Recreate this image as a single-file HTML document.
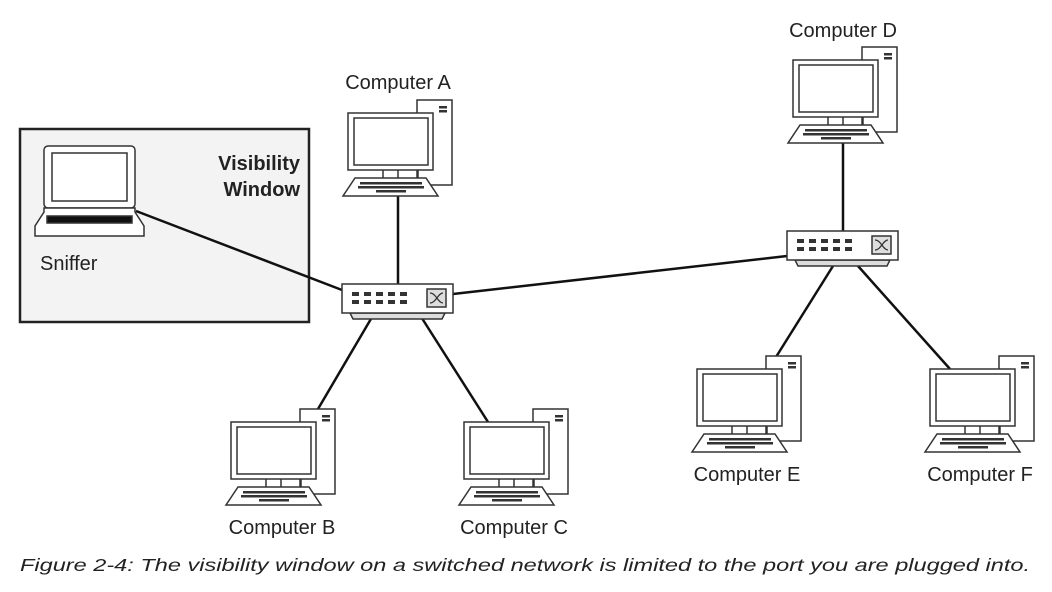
<!DOCTYPE html>
<html><head><meta charset="utf-8"><style>
html,body{margin:0;padding:0;background:#fff;}
svg{display:block;}
text{font-family:"Liberation Sans",sans-serif;fill:#222;}
</style></head><body>
<svg width="1052" height="592" viewBox="0 0 1052 592" xmlns="http://www.w3.org/2000/svg">
<defs>
<g id="pc" stroke="#333" stroke-width="1.5" fill="#fff">
  <rect x="69" y="-13" width="35" height="85"/>
  <rect x="91" y="-7" width="8" height="2.5" fill="#333" stroke="none"/>
  <rect x="91" y="-3" width="8" height="2.5" fill="#333" stroke="none"/>
  <rect x="0" y="0" width="85" height="57"/>
  <rect x="6" y="5" width="74" height="47"/>
  <line x1="35" y1="57" x2="35" y2="65"/><line x1="50" y1="57" x2="50" y2="65"/><line x1="70" y1="57" x2="70" y2="65"/>
  <polygon points="7,65 78,65 90,83 -5,83"/>
  <rect x="12" y="69" width="62" height="2.5" fill="#333" stroke="none"/>
  <rect x="10" y="73" width="66" height="2.5" fill="#333" stroke="none"/>
  <rect x="28" y="77" width="30" height="2.5" fill="#333" stroke="none"/>
</g>
<g id="sw" stroke="#333" stroke-width="1.5" fill="#fff">
  <polygon points="8,29 103,29 100,35 11,35" fill="#ddd"/>
  <rect x="0" y="0" width="111" height="29"/>
  <g fill="#333" stroke="none">
    <rect x="10" y="8" width="7" height="4"/><rect x="22" y="8" width="7" height="4"/><rect x="34" y="8" width="7" height="4"/><rect x="46" y="8" width="7" height="4"/><rect x="58" y="8" width="7" height="4"/>
    <rect x="10" y="16" width="7" height="4"/><rect x="22" y="16" width="7" height="4"/><rect x="34" y="16" width="7" height="4"/><rect x="46" y="16" width="7" height="4"/><rect x="58" y="16" width="7" height="4"/>
  </g>
  <rect x="85" y="5" width="19" height="18" fill="#ddd"/>
  <path d="M88,9 C94,9 96,19 101,19 M88,19 C94,19 96,9 101,9" fill="none" stroke-width="1.3"/>
</g>
</defs>
<rect x="20" y="129" width="289" height="193" fill="#f3f3f3" stroke="#222" stroke-width="2.5"/>
<g stroke="#111" stroke-width="2.5">
  <line x1="136" y1="211" x2="342" y2="290"/>
  <line x1="398" y1="196" x2="398" y2="285"/>
  <line x1="453" y1="294" x2="787" y2="256"/>
  <line x1="843" y1="143" x2="843" y2="231"/>
  <line x1="375" y1="312" x2="318" y2="409"/>
  <line x1="418" y1="312" x2="488" y2="422"/>
  <line x1="833" y1="266" x2="776" y2="357"/>
  <line x1="858" y1="266" x2="950" y2="369"/>
</g>
<!-- laptop -->
<g stroke="#333" stroke-width="1.5" fill="#fff">
  <rect x="44" y="146" width="91" height="62" rx="4"/>
  <rect x="52" y="153" width="75" height="48"/>
  <path d="M44,208 L135,208 L135,212 L144,226 L144,236 L35,236 L35,226 L44,212 Z"/>
  <rect x="47" y="216" width="85" height="7" fill="#111"/>
</g>
<use href="#pc" x="348" y="113"/>
<use href="#pc" x="793" y="60"/>
<use href="#pc" x="231" y="422"/>
<use href="#pc" x="464" y="422"/>
<use href="#pc" x="697" y="369"/>
<use href="#pc" x="930" y="369"/>
<use href="#sw" x="342" y="284"/>
<use href="#sw" x="787" y="231"/>
<g font-size="20">
<text x="398" y="89" text-anchor="middle">Computer A</text>
<text x="843" y="37" text-anchor="middle">Computer D</text>
<text x="282" y="534" text-anchor="middle">Computer B</text>
<text x="514" y="534" text-anchor="middle">Computer C</text>
<text x="747" y="481" text-anchor="middle">Computer E</text>
<text x="980" y="481" text-anchor="middle">Computer F</text>
<text x="40" y="270">Sniffer</text>
</g>
<text x="300" y="170" text-anchor="end" font-size="20" font-weight="bold">Visibility</text>
<text x="300" y="196" text-anchor="end" font-size="20" font-weight="bold">Window</text>
<text x="20" y="571" font-size="17.5" font-style="italic" textLength="1010" lengthAdjust="spacingAndGlyphs">Figure 2-4: The visibility window on a switched network is limited to the port you are plugged into.</text>
</svg>
</body></html>
